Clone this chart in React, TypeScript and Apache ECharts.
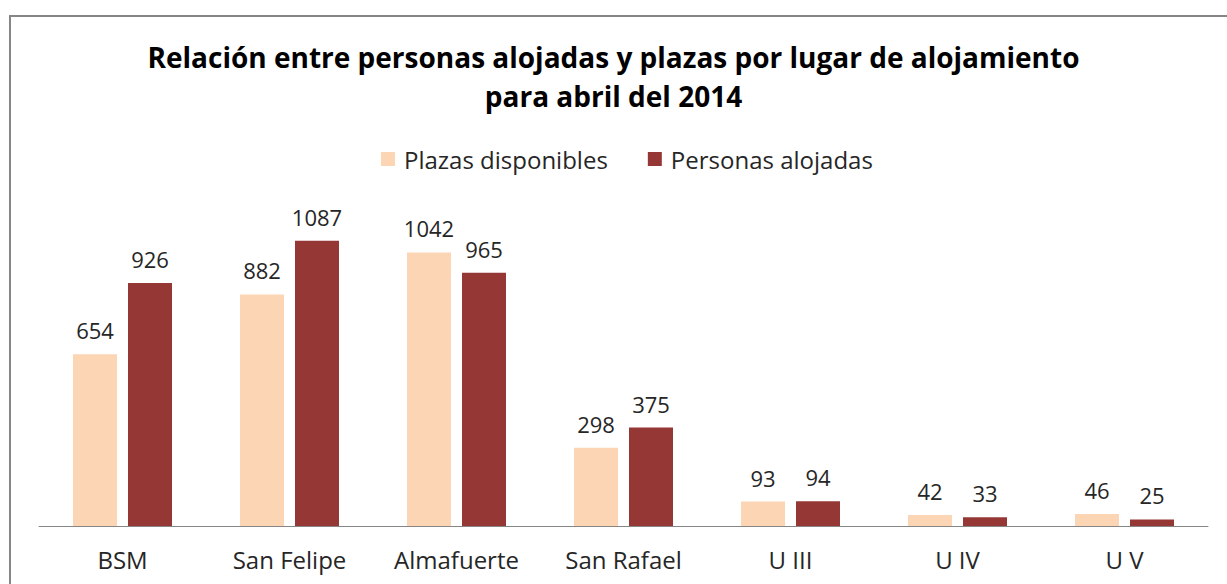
import React, { useEffect, useRef } from "react";
import * as echarts from "echarts";

const categories = ["BSM", "San Felipe", "Almafuerte", "San Rafael", "U III", "U IV", "U V"];
const plazasDisponibles = [654, 882, 1042, 298, 93, 42, 46];
const personasAlojadas = [926, 1087, 965, 375, 94, 33, 25];
const seriesNames = ["Plazas disponibles", "Personas alojadas"];
const titleLines = [
  "Relación entre personas alojadas y plazas por lugar de alojamiento",
  "para abril del 2014",
];

export default function App() {
  const ref = useRef<HTMLDivElement>(null);
  useEffect(() => {
    document.body.style.margin = "0";
    const chart = echarts.init(ref.current!, null, { renderer: "svg" });
    const font = "'Open Sans', sans-serif";
    const labelStyle = {
      show: true,
      position: "top" as const,
      distance: 13,
      fontSize: 22,
      color: "#262626",
      fontFamily: font,
    };
    const titleStyle = {
      fontSize: 28,
      fontWeight: "bold" as const,
      color: "#000000",
      fontFamily: font,
    };
    chart.setOption({
      animation: false,
      backgroundColor: "#ffffff",
      title: [
        { text: titleLines[0], left: "center", top: 38, textStyle: titleStyle },
        { text: titleLines[1], left: "center", top: 77, textStyle: titleStyle },
      ],
      legend: {
        top: 142,
        left: 376,
        itemWidth: 14,
        itemHeight: 14,
        itemGap: 40,
        icon: "rect",
        textStyle: { fontSize: 24, color: "#262626", fontFamily: font, padding: [0, 0, 0, 4] },
        data: seriesNames,
      },
      graphic: [
        {
          type: "rect",
          shape: { x: 10, y: 16, width: 1300, height: 700 },
          style: { fill: "none", stroke: "#868686", lineWidth: 2 },
          silent: true,
        },
      ],
      grid: { left: 39, right: 19, top: 211, bottom: 58 },
      xAxis: {
        type: "category",
        data: categories,
        axisLine: { show: true, lineStyle: { color: "#868686", width: 1 } },
        axisTick: { show: false },
        axisLabel: { fontSize: 24, color: "#262626", fontFamily: font, margin: 21 },
      },
      yAxis: {
        type: "value",
        min: 0,
        max: 1200,
        show: false,
        splitLine: { show: false },
      },
      series: [
        {
          name: seriesNames[0],
          type: "bar",
          data: plazasDisponibles,
          barWidth: 44,
          barGap: "25%",
          itemStyle: { color: "#FCD5B5" },
          label: labelStyle,
        },
        {
          name: seriesNames[1],
          type: "bar",
          data: personasAlojadas,
          barWidth: 44,
          barGap: "25%",
          itemStyle: { color: "#953735" },
          label: labelStyle,
        },
      ],
    });
    return () => chart.dispose();
  }, []);
  return (
    <div
      ref={ref}
      style={{ position: "absolute", left: 0, top: 0, width: 1227, height: 584 }}
    />
  );
}
